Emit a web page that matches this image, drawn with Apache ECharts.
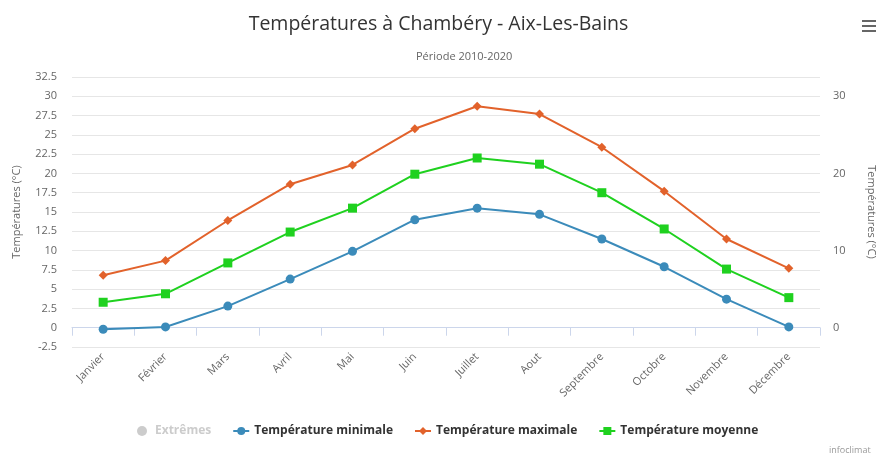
<!DOCTYPE html>
<html>
<head>
<meta charset="utf-8">
<title>Températures à Chambéry - Aix-Les-Bains</title>
<script src="https://cdn.jsdelivr.net/npm/echarts@6/dist/echarts.min.js"></script>
<style>
  html, body { margin: 0; padding: 0; background: #fff; }
  #chart { width: 877px; height: 455px; }
</style>
</head>
<body>
<div id="chart"></div>
<script>
// Monthly averages, period 2010-2020
const months = ['Janvier', 'Février', 'Mars', 'Avril', 'Mai', 'Juin', 'Juillet', 'Aout', 'Septembre', 'Octobre', 'Novembre', 'Décembre'];
const tempMin = [-0.2, 0.1, 2.8, 6.3, 9.9, 14.0, 15.5, 14.7, 11.5, 7.9, 3.7, 0.1];
const tempMax = [6.8, 8.7, 13.9, 18.6, 21.1, 25.8, 28.7, 27.7, 23.4, 17.7, 11.5, 7.7];
const tempMoy = [3.3, 4.4, 8.4, 12.4, 15.5, 19.9, 22.0, 21.2, 17.5, 12.8, 7.6, 3.9];
const extremes = [];

const FONT = '"Open Sans", "DejaVu Sans", sans-serif';
const COLORS = { min: '#3b8bba', max: '#e2622b', moy: '#1fd11f' };

const chart = echarts.init(document.getElementById('chart'), null, { renderer: 'canvas' });

chart.setOption({
  animation: false,
  textStyle: { fontFamily: FONT },
  title: [
    {
      text: 'Températures à Chambéry - Aix-Les-Bains',
      left: 'center',
      top: 9,
      textStyle: { fontFamily: FONT, fontSize: 19.5, fontWeight: 'normal', color: '#333' }
    },
    {
      text: 'Période 2010-2020',
      left: 411,
      top: 46,
      textStyle: { fontFamily: FONT, fontSize: 11, fontWeight: 'normal', color: '#666' }
    }
  ],
  legend: {
    bottom: 13,
    left: 132,
    itemGap: 21,
    itemWidth: 16,
    itemHeight: 10,
    inactiveColor: '#ccc',
    selected: { 'Extrêmes': false },
    data: [
      { name: 'Extrêmes', icon: 'circle', itemStyle: { color: '#ccc' } },
      'Température minimale',
      'Température maximale',
      'Température moyenne'
    ],
    textStyle: { fontFamily: FONT, fontSize: 12, fontWeight: 'bold', color: '#333' }
  },
  grid: { left: 72, right: 57, top: 77, bottom: 108, outerBoundsMode: 'none', containLabel: false },
  xAxis: {
    type: 'category',
    data: months,
    boundaryGap: true,
    axisLine: { lineStyle: { color: '#ccd6eb', width: 1 } },
    axisTick: { show: true, length: 8, alignWithLabel: false, lineStyle: { color: '#ccd6eb' } },
    axisLabel: { rotate: 45, fontSize: 11, color: '#666', margin: 8, interval: 0, fontFamily: FONT },
    splitLine: { show: false }
  },
  yAxis: [
    {
      type: 'value',
      min: -2.5,
      max: 32.5,
      interval: 2.5,
      name: 'Températures (°C)',
      nameLocation: 'middle',
      nameGap: 50,
      nameTextStyle: { fontSize: 11, color: '#666', fontFamily: FONT },
      axisLine: { show: false },
      axisTick: { show: false },
      axisLabel: { fontSize: 11, color: '#666', margin: 15, fontFamily: FONT },
      splitLine: { lineStyle: { color: '#e6e6e6', width: 1 } }
    },
    {
      type: 'value',
      position: 'right',
      min: -2.5,
      max: 32.5,
      interval: 2.5,
      name: 'Températures (°C)',
      nameLocation: 'middle',
      nameRotate: -90,
      nameGap: 46,
      nameTextStyle: { fontSize: 11, color: '#666', fontFamily: FONT },
      axisLine: { show: false },
      axisTick: { show: false },
      axisLabel: {
        fontSize: 11, color: '#666', margin: 13, fontFamily: FONT,
        formatter: v => (Math.abs(v % 10) < 1e-9 ? String(v) : '')
      },
      splitLine: { show: false }
    }
  ],
  series: [
    {
      name: 'Extrêmes',
      type: 'line',
      data: extremes,
      symbol: 'circle',
      itemStyle: { color: '#ccc' }
    },
    {
      name: 'Température minimale',
      type: 'line',
      data: tempMin,
      symbol: 'circle',
      symbolSize: 9,
      lineStyle: { width: 2, color: COLORS.min },
      itemStyle: { color: COLORS.min }
    },
    {
      name: 'Température maximale',
      type: 'line',
      data: tempMax,
      symbol: 'diamond',
      symbolSize: 9,
      lineStyle: { width: 2, color: COLORS.max },
      itemStyle: { color: COLORS.max }
    },
    {
      name: 'Température moyenne',
      type: 'line',
      data: tempMoy,
      symbol: 'rect',
      symbolSize: 9,
      lineStyle: { width: 2, color: COLORS.moy },
      itemStyle: { color: COLORS.moy }
    }
  ],
  graphic: [
    // context menu button
    { type: 'rect', shape: { x: 862, y: 20, width: 14, height: 2 }, style: { fill: '#666' } },
    { type: 'rect', shape: { x: 862, y: 25, width: 14, height: 2 }, style: { fill: '#666' } },
    { type: 'rect', shape: { x: 862, y: 30, width: 14, height: 2 }, style: { fill: '#666' } },
    // credits
    { type: 'text', left: 829, top: 446, style: { text: 'infoclimat', fontSize: 9, fill: '#999', fontFamily: FONT } }
  ]
});
</script>
</body>
</html>
